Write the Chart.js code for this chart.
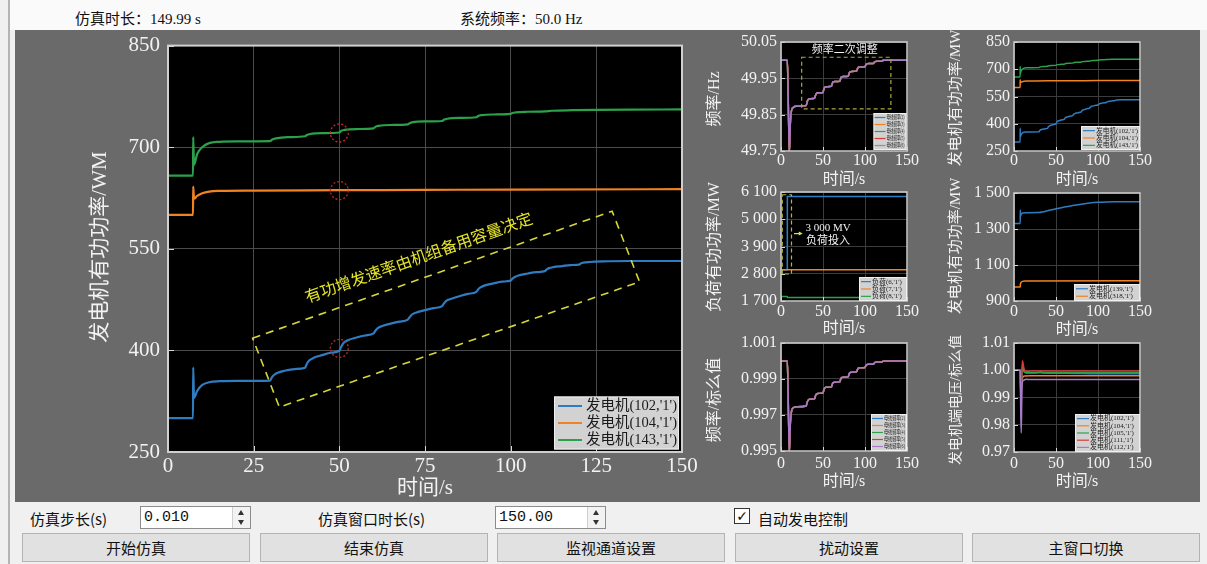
<!DOCTYPE html>
<html><head><meta charset="utf-8">
<script src="https://cdn.jsdelivr.net/npm/chart.js@4.4.1/dist/chart.umd.min.js"></script>
<style>
html,body{margin:0;padding:0;}
body{width:1207px;height:564px;position:relative;overflow:hidden;background:#f0f0f0;font-family:"Liberation Serif","Noto Sans CJK SC",serif;}
#topbar{position:absolute;left:10px;top:0;width:1197px;height:30px;background:#fafafa;}
#leftline{position:absolute;left:8px;top:0;width:2px;height:564px;background:#b4b4b4;}
.toptxt{position:absolute;top:7px;font-size:15px;color:#111;white-space:nowrap;}
#panel{position:absolute;left:15px;top:30px;width:1185px;height:472px;background:#6a6a6a;}
canvas{position:absolute;}
.lbl{position:absolute;top:508px;font-size:15px;color:#111;white-space:nowrap;font-family:"Noto Sans CJK SC",sans-serif;}
.spin{position:absolute;top:506px;height:23px;background:#fff;border:1px solid #8c8c8c;box-sizing:border-box;font-family:"Liberation Mono",monospace;font-size:15px;line-height:21px;padding-left:3px;color:#111;}
.sb{position:absolute;right:0;top:0;width:17px;height:21px;background:#f2f2f2;border-left:1px solid #cfcfcf;}
.up,.dn{position:absolute;left:5px;width:0;height:0;border-left:3px solid transparent;border-right:3px solid transparent;}
.up{top:3px;border-bottom:5px solid #333;}
.dn{top:13px;border-top:5px solid #333;}
.chk{position:absolute;left:734px;top:508px;width:16px;height:16px;border:1px solid #333;background:#fff;box-sizing:border-box;font-size:14px;line-height:14px;text-align:center;color:#111;font-family:"DejaVu Sans",sans-serif;}
.btn{position:absolute;top:533px;height:29px;background:#e1e1e1;border:1px solid #b4b4b4;box-sizing:border-box;font-size:15px;line-height:27px;text-align:center;color:#111;font-family:"Noto Sans CJK SC",sans-serif;}
</style>
</head><body>
<div id="topbar"></div>
<div id="leftline"></div>
<div class="toptxt" style="left:75px">仿真时长：149.99 s</div>
<div class="toptxt" style="left:460px">系统频率：50.0 Hz</div>
<div id="panel"></div>
<canvas id="cMain"></canvas>
<canvas id="cA"></canvas>
<canvas id="cB"></canvas>
<canvas id="cC"></canvas>
<canvas id="cD"></canvas>
<canvas id="cE"></canvas>
<canvas id="cF"></canvas>
<div class="lbl" style="left:30px">仿真步长(s)</div>
<div class="spin" style="left:140px;width:111px">0.010<div class="sb"><div class="up"></div><div class="dn"></div></div></div>
<div class="lbl" style="left:318px">仿真窗口时长(s)</div>
<div class="spin" style="left:495px;width:111px">150.00<div class="sb"><div class="up"></div><div class="dn"></div></div></div>
<div class="chk">✓</div>
<div class="lbl" style="left:758px">自动发电控制</div>
<div class="btn" style="left:22px;width:228px">开始仿真</div>
<div class="btn" style="left:260px;width:228px">结束仿真</div>
<div class="btn" style="left:497px;width:228px">监视通道设置</div>
<div class="btn" style="left:735px;width:228px">扰动设置</div>
<div class="btn" style="left:972px;width:228px">主窗口切换</div>
<script>
// ---------------- data (time s, value) ----------------
const gen102 = [[0,300],[7.3,300],[7.35,375],[7.6,330],[8.5,340],[10,349],[12,353],[15,354.5],[20,355],[29.8,355.5],
 [30.3,360],[31,364],[32,367],[34,370],[37,372.5],[40,374.5],
 [40.5,380],[41.2,385],[42.5,389],[45,393],[47.5,396.5],[50,399.5],
 [50.5,405],[51.2,411],[52.5,415],[55,419],[57.5,422],[60,425],
 [60.5,429],[61.2,433],[62.5,436],[65,439.5],[67.5,442.5],[70,445.5],
 [70.5,449],[71.2,453],[72.5,456],[75,459.5],[77.5,462.5],[80,465.5],
 [80.5,469],[81.2,473],[82.5,476],[85,480],[87.5,483.5],[90,486.5],
 [90.5,490],[91.2,493],[92.5,496],[95,499],[97.5,501.5],[100,503],
 [100.5,506],[101.2,508.5],[102.5,511],[105,513.5],[107.5,515.5],[110,517],
 [110.5,519.5],[111.2,521.5],[112.5,523],[115,524.5],[117.5,526],[120,526.5],
 [120.5,528.5],[121.2,529.5],[123,530.5],[127,531.5],[135,532],[150,532]];
const gen104 = [[0,600],[7.3,600],[7.35,642],[7.6,624],[8.5,628],[10,632],[12,634.5],[15,635.5],[25,636],[50,636.5],[75,637],[100,637.5],[150,638]];
const gen143 = [[0,658],[7.3,658],[7.35,715],[7.6,674],[8.5,690],[10,700],[12,706],[15,708],[20,708.7],[29.8,709],
 [30.3,711],[31.5,713],[35,714.8],[40,716.2],
 [40.5,718],[41.5,719.5],[45,720.8],[50,721.7],
 [50.5,724],[51.5,725.5],[55,726.8],[60,727.7],
 [60.5,730],[61.5,731.5],[65,732.8],[70,733.7],
 [70.5,735.5],[71.5,737],[75,738],[80,738.7],
 [80.5,740.5],[81.5,742],[85,743.3],[90,744.2],
 [90.5,746],[91.5,747.3],[95,748.3],[100,749.2],
 [100.5,750.5],[101.5,751.3],[105,752.3],[110,753],
 [112,753.8],[118,754.6],[125,755.1],[135,755.5],[150,755.7]];
const freqHz = [[0,50.0],[7.5,50.0],[8.3,49.93],[9.0,49.84],[9.6,49.77],[10.0,49.75],[10.5,49.78],[11.0,49.82],[11.7,49.848],[12.7,49.863],[14.5,49.870],[18,49.873],[30,49.875],
 [31,49.884],[32,49.891],[34,49.894],[40,49.895],
 [41,49.903],[42,49.908],[44,49.910],[50,49.911],
 [51,49.920],[52,49.925],[54,49.927],[60,49.928],
 [61,49.935],[62,49.940],[64,49.941],[70,49.942],
 [71,49.949],[72,49.954],[74,49.955],[80,49.956],
 [81,49.963],[82,49.968],[84,49.969],[90,49.970],
 [91,49.976],[92,49.980],[94,49.981],[100,49.982],
 [101,49.987],[102,49.990],[104,49.991],[110,49.991],
 [111,49.994],[112,49.996],[114,49.997],[120,49.997],
 [121,49.999],[123,50.0],[150,50.0]];
const freqPu = [[0,1.0],[7.5,1.0],[8.3,0.9986],[9.0,0.9968],[9.6,0.9954],[10.0,0.9950],[10.5,0.9956],[11.0,0.9964],[11.7,0.9969],[12.7,0.99725],[14.5,0.9974],[18,0.99745],[30,0.9975],
 [31,0.99768],[32,0.9978],[34,0.99787],[40,0.9979],
 [41,0.99806],[42,0.99815],[44,0.9982],[50,0.99822],
 [51,0.9984],[52,0.9985],[54,0.99854],[60,0.99856],
 [61,0.9987],[62,0.9988],[64,0.99882],[70,0.99884],
 [71,0.99898],[72,0.99908],[74,0.9991],[80,0.99912],
 [81,0.99926],[82,0.99936],[84,0.99938],[90,0.9994],
 [91,0.99952],[92,0.9996],[94,0.99962],[100,0.99964],
 [101,0.99974],[102,0.9998],[104,0.99982],[110,0.99982],
 [111,0.99988],[112,0.99992],[114,0.99994],[120,0.99994],
 [121,0.99998],[123,1.0],[150,1.0]];
const load6 = [[0,2960],[7.5,2960],[7.55,5920],[150,5920]];
const load7 = [[0,2960],[150,2960]];
const load8 = [[0,1880],[7.5,1880],[7.6,1840],[150,1840]];
const gen139 = [[0,1330],[7.4,1330],[7.5,1405],[7.8,1372],[8.8,1384],[10.5,1389],[15,1390],[30,1391],[35,1396],[40,1401],[50,1412],[60,1422],[70,1431],[80,1438],[90,1444],[100,1448],[110,1450],[120,1451],[150,1451]];
const gen318 = [[0,978],[7.4,978],[7.6,992],[8.5,1003],[10,1009],[13,1011],[150,1012]];
const volt102 = [[0,1.0],[7.5,1.0],[8.0,0.992],[8.8,0.995],[9.6,1.0005],[10.5,1.0012],[11.5,1.0],[13,0.9993],[16,0.9990],[25,0.9990],[30,0.9993],[32,0.9996],[34,0.9990],[60,0.9989],[100,0.9987],[150,0.9987]];
const volt104 = [[0,1.0],[7.5,1.0],[8.2,0.989],[9.2,0.9955],[10.5,0.9975],[12.5,0.9979],[20,0.998],[150,0.998]];
const volt105 = [[0,1.0],[7.5,1.0],[8.1,0.991],[9.3,0.998],[10.5,1.0015],[11.8,0.9995],[14,0.9991],[150,0.9991]];
const volt111 = [[0,1.0],[7.5,1.0],[8.1,0.988],[9.0,0.997],[10.0,1.0035],[10.8,1.0025],[12,1.0005],[14,0.9996],[20,0.9997],[150,0.9997]];
const volt112 = [[0,1.0],[7.5,1.0],[8.0,0.985],[8.6,0.977],[9.2,0.988],[9.8,0.9955],[11,0.9962],[14,0.9967],[20,0.9966],[150,0.9966]];

// ---------------- ticks ----------------
const mainXTicks = [0,25,50,75,100,125,150];
const mainYTicks = [250,400,550,700,850];
const smallXTicks = [0,50,100,150];
const freqHzTicks = [49.75,49.85,49.95,50.05];
const freqHzLabels = ['49.75','49.85','49.95','50.05'];
const genYTicks = [250,400,550,700,850];
const loadYTicks = [1700,2800,3900,5000,6100];
const loadYLabels = ['1 700','2 800','3 900','5 000','6 100'];
const gen2YTicks = [900,1100,1300,1500];
const gen2YLabels = ['900','1 100','1 300','1 500'];
const freqPuTicks = [0.995,0.997,0.999,1.001];
const freqPuLabels = ['0.995','0.997','0.999','1.001'];
const voltYTicks = [0.97,0.98,0.99,1.00,1.01];
const voltYLabels = ['0.97','0.98','0.99','1.00','1.01'];

// ---------------- annotations (data space) ----------------
const markCircles = [[50,721],[50,636],[50,403]];
const rampBox = [[24.7,418],[129.6,605.6],[137.6,501.2],[32.5,316.2]];
const rampTextPos = [73.3,535];
const rampText = '有功增发速率由机组备用容量决定';
const agcBox = [[24.6,50.008],[130.8,49.866]];
const agcTextPos = [76,50.029];
const loadBox = [[1.5,5990],[12.5,2790]];

const C = {blue:'#2f7cc0',orange:'#f08224',green:'#2ca04a',red:'#d83a34',purple:'#a77bc7'};
const SERIF = '"Liberation Serif","Noto Sans CJK SC",serif';

const panelPlugin = {
  id:'panel',
  beforeDraw(c){
    const a=c.chartArea, ctx=c.ctx;
    ctx.save(); ctx.fillStyle='#000'; ctx.fillRect(a.left,a.top,a.right-a.left,a.bottom-a.top); ctx.restore();
  },
  afterDraw(c,args,o){
    const ctx=c.ctx, a=c.chartArea, xs=c.scales.x, ys=c.scales.y;
    ctx.save();
    ctx.strokeStyle='#d8d8d8'; ctx.lineWidth=1;
    ys.ticks.forEach(t=>{const py=Math.round(ys.getPixelForValue(t.value))+0.5; ctx.beginPath(); ctx.moveTo(a.left,py); ctx.lineTo(a.left+o.tick,py); ctx.stroke();});
    xs.ticks.forEach(t=>{const px=Math.round(xs.getPixelForValue(t.value))+0.5; ctx.beginPath(); ctx.moveTo(px,a.bottom); ctx.lineTo(px,a.bottom-o.tick); ctx.stroke();});
    ctx.strokeStyle='#cfcfcf'; ctx.lineWidth=o.frame; ctx.strokeRect(a.left,a.top,a.right-a.left,a.bottom-a.top);
    if(o.annot) o.annot(c,ctx,xs,ys);
    ctx.setLineDash([]);
    if(o.legend){
      const L=o.legend, w=L.w, h=L.h, x0=a.right-L.dr-w, y0=a.bottom-L.db-h;
      ctx.fillStyle='#d2d2d2'; ctx.fillRect(x0,y0,w,h);
      ctx.strokeStyle='#f0f0f0'; ctx.lineWidth=1; ctx.strokeRect(x0+0.5,y0+0.5,w-1,h-1);
      const ds=c.data.datasets, rh=(h-2*L.pad)/ds.length;
      ctx.font=L.font; ctx.textBaseline='middle'; ctx.textAlign='left';
      ds.forEach((d,i)=>{
        const yy=y0+L.pad+rh*(i+0.5);
        ctx.strokeStyle=d.borderColor; ctx.lineWidth=L.lw; ctx.beginPath(); ctx.moveTo(x0+L.lx,yy); ctx.lineTo(x0+L.lx+L.ll,yy); ctx.stroke();
        ctx.fillStyle='#1a1a1a'; ctx.fillText(d.label,x0+L.lx+L.ll+L.gap,yy,w-(L.lx+L.ll+L.gap)-2);
      });
    }
    ctx.fillStyle='#f2f2f2'; ctx.textAlign='center'; ctx.textBaseline='middle';
    ctx.font=o.yTitleFont;
    ctx.save(); ctx.translate(o.yTitlePos[0]-o.off[0],o.yTitlePos[1]-o.off[1]); ctx.rotate(-Math.PI/2); ctx.fillText(o.yTitle,0,0); ctx.restore();
    ctx.font=o.xTitleFont;
    ctx.fillText(o.xTitle,o.xTitlePos[0]-o.off[0],o.xTitlePos[1]-o.off[1]);
    ctx.restore();
  }
};

function mk(id, box, area, cfg){
  const cv=document.getElementById(id);
  cv.width=box[2]-box[0]; cv.height=box[3]-box[1];
  cv.style.left=box[0]+'px'; cv.style.top=box[1]+'px';
  const yw=area[0]-box[0], pt=area[1]-box[1], pr=box[2]-area[2], xh=box[3]-area[3];
  const lh=cfg.fs*1.2;
  const xPad=cfg.xLabelY-area[3]-lh/2;
  const n=cfg.series.length;
  return new Chart(cv,{
    type:'line',
    data:{datasets:cfg.series.map((s,i)=>({label:s.label,order:n-1-i,data:s.data.map(([x,y])=>({x,y})),borderColor:s.color,backgroundColor:s.color,borderWidth:cfg.lw,pointRadius:0,cubicInterpolationMode:'monotone',fill:false}))},
    options:{
      responsive:false, animation:false, devicePixelRatio:1, events:[],
      layout:{padding:{left:0,top:pt,right:pr,bottom:0}},
      plugins:{legend:{display:false},tooltip:{enabled:false},
        panel:{off:[box[0],box[1]],tick:cfg.tick,frame:cfg.frame,annot:cfg.annot,legend:cfg.legend,
          yTitle:cfg.yTitle,yTitlePos:cfg.yTitlePos,yTitleFont:cfg.yTitleFont,
          xTitle:'时间/s',xTitlePos:cfg.xTitlePos,xTitleFont:cfg.xTitleFont}},
      scales:{
        x:{type:'linear',min:cfg.xTicks[0],max:cfg.xTicks[cfg.xTicks.length-1],
          afterFit:s=>{s.height=xh;},
          afterBuildTicks:s=>{s.ticks=cfg.xTicks.map(v=>({value:v}));},
          ticks:{color:'#f2f2f2',font:{family:SERIF,size:cfg.fs},padding:xPad,maxRotation:0,autoSkip:false,callback:(v,i)=>String(cfg.xTicks[i])},
          grid:{color:cfg.grid,drawTicks:false},border:{display:false}},
        y:{type:'linear',min:cfg.yTicks[0],max:cfg.yTicks[cfg.yTicks.length-1],
          afterFit:s=>{s.width=yw;},
          afterBuildTicks:s=>{s.ticks=cfg.yTicks.map(v=>({value:v}));},
          ticks:{color:'#f2f2f2',font:{family:SERIF,size:cfg.fs},padding:cfg.yPad,autoSkip:false,callback:(v,i)=>cfg.yLabels[i]},
          grid:{color:cfg.grid,drawTicks:false},border:{display:false}}
      }
    },
    plugins:[panelPlugin]
  });
}

const genSeries = [
  {label:"发电机(102,'1')",data:gen102,color:C.blue},
  {label:"发电机(104,'1')",data:gen104,color:C.orange},
  {label:"发电机(143,'1')",data:gen143,color:C.green}];

mk('cMain',[15,25,700,500],[168,42,682,452],{
  series:genSeries, lw:2.2, fs:21, xLabelY:466, yPad:8, grid:'#4b4b4b', tick:6, frame:2,
  xTicks:mainXTicks, yTicks:mainYTicks, yLabels:mainYTicks.map(String),
  yTitle:'发电机有功功率/WM', yTitlePos:[100,247], yTitleFont:'21px '+SERIF,
  xTitlePos:[425,488], xTitleFont:'21px '+SERIF,
  legend:{w:125,h:53,dr:3,db:2.5,pad:1,lx:4,ll:24,gap:4,lw:2,font:'15px '+SERIF},
  annot:(c,ctx,xs,ys)=>{
    const P=p=>[xs.getPixelForValue(p[0]),ys.getPixelForValue(p[1])];
    ctx.setLineDash([2,2]); ctx.strokeStyle='#c3262a'; ctx.lineWidth=1.3;
    markCircles.forEach(p=>{const q=P(p); ctx.beginPath(); ctx.arc(q[0],q[1],9,0,2*Math.PI); ctx.stroke();});
    const pts=rampBox.map(P);
    ctx.setLineDash([8,6]); ctx.strokeStyle='#d6d63a'; ctx.lineWidth=1.6;
    ctx.beginPath(); pts.forEach((p,i)=>i?ctx.lineTo(p[0],p[1]):ctx.moveTo(p[0],p[1])); ctx.closePath(); ctx.stroke();
    ctx.setLineDash([]);
    const t=P(rampTextPos), ang=Math.atan2(pts[1][1]-pts[0][1],pts[1][0]-pts[0][0]);
    ctx.save(); ctx.translate(t[0],t[1]); ctx.rotate(ang); ctx.font='16px '+SERIF; ctx.fillStyle='#e6e62a'; ctx.textAlign='center'; ctx.textBaseline='middle'; ctx.fillText(rampText,0,0); ctx.restore();
  }
});

const smallBase = {lw:1.5, fs:16, yPad:4, grid:'#3c3c3c', tick:4, frame:1.5, xTicks:smallXTicks, xTitleFont:'16px '+SERIF};

mk('cA',[700,22,925,190],[781,42,907,151],Object.assign({},smallBase,{
  series:[{label:"母线频率(2)",data:freqHz,color:C.blue},{label:"母线频率(3)",data:freqHz,color:C.orange},{label:"母线频率(4)",data:freqHz,color:C.green},{label:"母线频率(5)",data:freqHz,color:C.red},{label:"母线频率(6)",data:freqHz,color:C.purple}],
  xLabelY:161, yTicks:freqHzTicks, yLabels:freqHzLabels,
  yTitle:'频率/Hz', yTitlePos:[715,99], yTitleFont:'16px '+SERIF, xTitlePos:[844,180],
  legend:{w:33,h:37,dr:0.5,db:1,pad:1,lx:1,ll:11,gap:1,lw:1.2,font:'6px '+SERIF},
  annot:(c,ctx,xs,ys)=>{
    const x1=xs.getPixelForValue(agcBox[0][0]),y1=ys.getPixelForValue(agcBox[0][1]),x2=xs.getPixelForValue(agcBox[1][0]),y2=ys.getPixelForValue(agcBox[1][1]);
    ctx.setLineDash([4,3]); ctx.strokeStyle='#a8a83a'; ctx.lineWidth=1.2; ctx.strokeRect(x1,y1,x2-x1,y2-y1); ctx.setLineDash([]);
    ctx.font='11px '+SERIF; ctx.fillStyle='#f0f0f0'; ctx.textAlign='center'; ctx.textBaseline='middle';
    ctx.fillText('频率二次调整',xs.getPixelForValue(agcTextPos[0]),ys.getPixelForValue(agcTextPos[1]));
  }
}));

mk('cB',[925,22,1160,190],[1014,42,1140,151],Object.assign({},smallBase,{
  series:genSeries, xLabelY:161, yTicks:genYTicks, yLabels:genYTicks.map(String),
  yTitle:'发电机有功功率/MW', yTitlePos:[956,98], yTitleFont:'15px '+SERIF, xTitlePos:[1077,180],
  legend:{w:59,h:24,dr:0,db:1,pad:1,lx:2,ll:12,gap:1,lw:1.2,font:'7px '+SERIF}
}));

mk('cC',[700,178,925,340],[781,192,907,301],Object.assign({},smallBase,{
  series:[{label:"负荷(6,'1')",data:load6,color:C.blue},{label:"负荷(7,'1')",data:load7,color:C.orange},{label:"负荷(8,'1')",data:load8,color:C.green}],
  xLabelY:312, yTicks:loadYTicks, yLabels:loadYLabels,
  yTitle:'负荷有功功率/MW', yTitlePos:[715,247], yTitleFont:'16px '+SERIF, xTitlePos:[844,329],
  legend:{w:48,h:24,dr:0,db:0,pad:1,lx:2,ll:10,gap:1,lw:1.2,font:'7px '+SERIF},
  annot:(c,ctx,xs,ys)=>{
    const x1=xs.getPixelForValue(loadBox[0][0]),y1=ys.getPixelForValue(loadBox[0][1]),x2=xs.getPixelForValue(loadBox[1][0]),y2=ys.getPixelForValue(loadBox[1][1]);
    ctx.setLineDash([4,3]); ctx.strokeStyle='#b4b43a'; ctx.lineWidth=1.2; ctx.strokeRect(x1,y1,x2-x1,y2-y1); ctx.setLineDash([]);
    const ay=ys.getPixelForValue(4420), ax1=xs.getPixelForValue(15.5), ax2=xs.getPixelForValue(23.5);
    ctx.strokeStyle='#e0e040'; ctx.fillStyle='#e0e040'; ctx.lineWidth=1.2;
    ctx.beginPath(); ctx.moveTo(ax1,ay); ctx.lineTo(ax2,ay); ctx.stroke();
    ctx.beginPath(); ctx.moveTo(ax2+2,ay); ctx.lineTo(ax2-2,ay-2); ctx.lineTo(ax2-2,ay+2); ctx.closePath(); ctx.fill();
    ctx.font='11px '+SERIF; ctx.fillStyle='#f0f0f0'; ctx.textAlign='center'; ctx.textBaseline='middle';
    ctx.fillText('3 000 MV',xs.getPixelForValue(56),ys.getPixelForValue(4655));
    ctx.fillText('负荷投入',xs.getPixelForValue(56),ys.getPixelForValue(4130));
  }
}));

mk('cD',[925,178,1160,340],[1014,193,1140,301],Object.assign({},smallBase,{
  series:[{label:"发电机(139,'1')",data:gen139,color:C.blue},{label:"发电机(318,'1')",data:gen318,color:C.orange}],
  xLabelY:312, yTicks:gen2YTicks, yLabels:gen2YLabels,
  yTitle:'发电机有功功率/MW', yTitlePos:[956,246], yTitleFont:'15px '+SERIF, xTitlePos:[1077,330],
  legend:{w:66,h:17,dr:0,db:0,pad:1,lx:2,ll:12,gap:1,lw:1.2,font:'7px '+SERIF}
}));

mk('cE',[700,329,925,497],[781,343,907,451],Object.assign({},smallBase,{
  series:[{label:"母线频率(2)",data:freqPu,color:C.blue},{label:"母线频率(3)",data:freqPu,color:C.orange},{label:"母线频率(4)",data:freqPu,color:C.green},{label:"母线频率(5)",data:freqPu,color:C.red},{label:"母线频率(6)",data:freqPu,color:C.purple}],
  xLabelY:464, yTicks:freqPuTicks, yLabels:freqPuLabels,
  yTitle:'频率/标么值', yTitlePos:[715,400], yTitleFont:'16px '+SERIF, xTitlePos:[844,482],
  legend:{w:36,h:37,dr:0,db:0,pad:1,lx:1,ll:11,gap:1,lw:1.2,font:'6px '+SERIF}
}));

mk('cF',[925,329,1160,497],[1014,343,1140,452],Object.assign({},smallBase,{
  series:[{label:"发电机(102,'1')",data:volt102,color:C.blue},{label:"发电机(104,'1')",data:volt104,color:C.orange},{label:"发电机(105,'1')",data:volt105,color:C.green},{label:"发电机(111,'1')",data:volt111,color:C.red},{label:"发电机(112,'1')",data:volt112,color:C.purple}],
  xLabelY:464, yTicks:voltYTicks, yLabels:voltYLabels,
  yTitle:'发电机端电压/标么值', yTitlePos:[956,400], yTitleFont:'14px '+SERIF, xTitlePos:[1077,482],
  legend:{w:65,h:38,dr:0,db:0,pad:1,lx:2,ll:12,gap:1,lw:1.2,font:'7px '+SERIF}
}));
</script>
</body></html>
